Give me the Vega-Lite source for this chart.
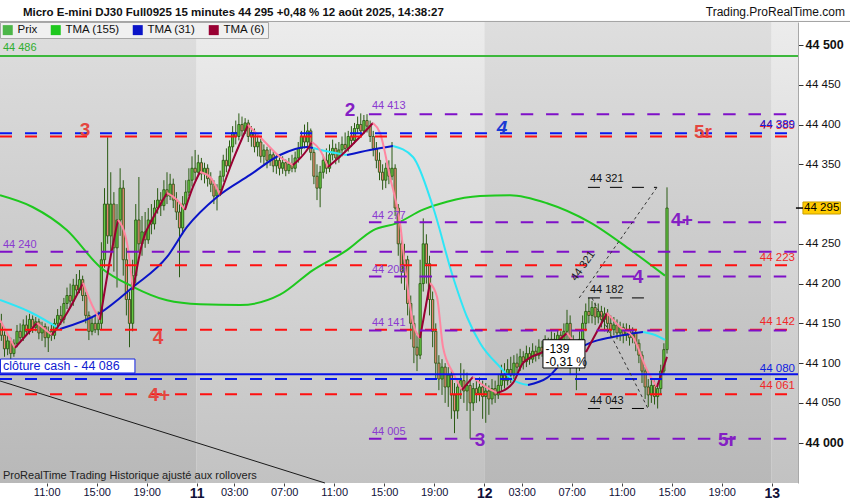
{
"$schema":"https://vega.github.io/schema/vega-lite/v6.json",
"width":798,"height":461,
"autosize":{"type":"none"},
"padding":{"left":0,"top":22,"right":52,"bottom":17},
"background":"white",
"config":{"view":{"stroke":null},"font":"Liberation Sans"},
"datasets":{
"candles":[
{"t":-15.625,"o":44150,"h":44162,"l":44128,"c":44135},
{"t":-15.375,"o":44135,"h":44140,"l":44108,"c":44118},
{"t":-15.125,"o":44118,"h":44135,"l":44110,"c":44128},
{"t":-14.875,"o":44128,"h":44132,"l":44105,"c":44112},
{"t":-14.625,"o":44112,"h":44130,"l":44108,"c":44125},
{"t":-14.375,"o":44125,"h":44148,"l":44120,"c":44140},
{"t":-14.125,"o":44140,"h":44150,"l":44126,"c":44132},
{"t":-13.875,"o":44132,"h":44155,"l":44128,"c":44148},
{"t":-13.625,"o":44148,"h":44160,"l":44135,"c":44140},
{"t":-13.375,"o":44140,"h":44162,"l":44136,"c":44155},
{"t":-13.125,"o":44155,"h":44160,"l":44138,"c":44145},
{"t":-12.875,"o":44145,"h":44158,"l":44140,"c":44152},
{"t":-12.625,"o":44152,"h":44156,"l":44130,"c":44138},
{"t":-12.375,"o":44138,"h":44152,"l":44128,"c":44146},
{"t":-12.125,"o":44146,"h":44150,"l":44120,"c":44132},
{"t":-11.875,"o":44132,"h":44146,"l":44114,"c":44140},
{"t":-11.625,"o":44140,"h":44148,"l":44128,"c":44135},
{"t":-11.375,"o":44135,"h":44156,"l":44130,"c":44150},
{"t":-11.125,"o":44150,"h":44168,"l":44145,"c":44160},
{"t":-10.875,"o":44160,"h":44172,"l":44148,"c":44155},
{"t":-10.625,"o":44155,"h":44182,"l":44150,"c":44175},
{"t":-10.375,"o":44175,"h":44195,"l":44168,"c":44185},
{"t":-10.125,"o":44185,"h":44200,"l":44170,"c":44178},
{"t":-9.875,"o":44178,"h":44206,"l":44172,"c":44198},
{"t":-9.625,"o":44198,"h":44212,"l":44185,"c":44192},
{"t":-9.375,"o":44192,"h":44217,"l":44188,"c":44205},
{"t":-9.125,"o":44205,"h":44210,"l":44178,"c":44185},
{"t":-8.875,"o":44185,"h":44190,"l":44150,"c":44160},
{"t":-8.625,"o":44160,"h":44165,"l":44129,"c":44140},
{"t":-8.375,"o":44140,"h":44158,"l":44135,"c":44150},
{"t":-8.125,"o":44150,"h":44160,"l":44138,"c":44142},
{"t":-7.875,"o":44142,"h":44165,"l":44135,"c":44150},
{"t":-7.625,"o":44150,"h":44252,"l":44142,"c":44230},
{"t":-7.375,"o":44230,"h":44320,"l":44220,"c":44300},
{"t":-7.125,"o":44300,"h":44384,"l":44250,"c":44260},
{"t":-6.875,"o":44260,"h":44340,"l":44240,"c":44300},
{"t":-6.625,"o":44300,"h":44315,"l":44215,"c":44245},
{"t":-6.375,"o":44245,"h":44300,"l":44195,"c":44280},
{"t":-6.125,"o":44280,"h":44345,"l":44260,"c":44320},
{"t":-5.875,"o":44320,"h":44330,"l":44210,"c":44230},
{"t":-5.625,"o":44230,"h":44245,"l":44160,"c":44180},
{"t":-5.375,"o":44180,"h":44190,"l":44120,"c":44150},
{"t":-5.125,"o":44150,"h":44230,"l":44140,"c":44210},
{"t":-4.875,"o":44210,"h":44300,"l":44200,"c":44280},
{"t":-4.625,"o":44280,"h":44334,"l":44240,"c":44250},
{"t":-4.375,"o":44250,"h":44285,"l":44235,"c":44265},
{"t":-4.125,"o":44265,"h":44290,"l":44245,"c":44255},
{"t":-3.875,"o":44255,"h":44295,"l":44250,"c":44280},
{"t":-3.625,"o":44280,"h":44300,"l":44262,"c":44275},
{"t":-3.375,"o":44275,"h":44305,"l":44268,"c":44295},
{"t":-3.125,"o":44295,"h":44320,"l":44288,"c":44305},
{"t":-2.875,"o":44305,"h":44315,"l":44285,"c":44298},
{"t":-2.625,"o":44298,"h":44330,"l":44292,"c":44318},
{"t":-2.375,"o":44318,"h":44340,"l":44300,"c":44310},
{"t":-2.125,"o":44310,"h":44338,"l":44305,"c":44325},
{"t":-1.875,"o":44325,"h":44332,"l":44295,"c":44305},
{"t":-1.625,"o":44305,"h":44315,"l":44280,"c":44290},
{"t":-1.375,"o":44290,"h":44300,"l":44208,"c":44270},
{"t":-1.125,"o":44270,"h":44310,"l":44262,"c":44300},
{"t":-0.875,"o":44300,"h":44330,"l":44295,"c":44315},
{"t":-0.625,"o":44315,"h":44345,"l":44310,"c":44330},
{"t":-0.375,"o":44330,"h":44360,"l":44322,"c":44345},
{"t":-0.125,"o":44345,"h":44368,"l":44330,"c":44340},
{"t":0.125,"o":44340,"h":44362,"l":44335,"c":44352},
{"t":0.375,"o":44352,"h":44358,"l":44330,"c":44338},
{"t":0.625,"o":44338,"h":44352,"l":44326,"c":44345},
{"t":0.875,"o":44345,"h":44350,"l":44322,"c":44332},
{"t":1.125,"o":44332,"h":44340,"l":44315,"c":44325},
{"t":1.375,"o":44325,"h":44330,"l":44300,"c":44310},
{"t":1.625,"o":44310,"h":44325,"l":44292,"c":44318},
{"t":1.875,"o":44318,"h":44342,"l":44310,"c":44335},
{"t":2.125,"o":44335,"h":44362,"l":44328,"c":44355},
{"t":2.375,"o":44355,"h":44370,"l":44340,"c":44348},
{"t":2.625,"o":44348,"h":44380,"l":44342,"c":44372},
{"t":2.875,"o":44372,"h":44398,"l":44365,"c":44390},
{"t":3.125,"o":44390,"h":44405,"l":44375,"c":44385},
{"t":3.375,"o":44385,"h":44414,"l":44380,"c":44400},
{"t":3.625,"o":44400,"h":44410,"l":44385,"c":44392},
{"t":3.875,"o":44392,"h":44408,"l":44388,"c":44402},
{"t":4.125,"o":44402,"h":44406,"l":44378,"c":44385},
{"t":4.375,"o":44385,"h":44398,"l":44372,"c":44390},
{"t":4.625,"o":44390,"h":44395,"l":44365,"c":44372},
{"t":4.875,"o":44372,"h":44388,"l":44360,"c":44378},
{"t":5.125,"o":44378,"h":44382,"l":44352,"c":44360},
{"t":5.375,"o":44360,"h":44375,"l":44350,"c":44368},
{"t":5.625,"o":44368,"h":44372,"l":44345,"c":44355},
{"t":5.875,"o":44355,"h":44370,"l":44348,"c":44362},
{"t":6.125,"o":44362,"h":44366,"l":44340,"c":44348},
{"t":6.375,"o":44348,"h":44362,"l":44338,"c":44355},
{"t":6.625,"o":44355,"h":44360,"l":44336,"c":44345},
{"t":6.875,"o":44345,"h":44360,"l":44338,"c":44352},
{"t":7.125,"o":44352,"h":44356,"l":44335,"c":44342},
{"t":7.375,"o":44342,"h":44358,"l":44338,"c":44350},
{"t":7.625,"o":44350,"h":44362,"l":44340,"c":44345},
{"t":7.875,"o":44345,"h":44366,"l":44340,"c":44358},
{"t":8.125,"o":44358,"h":44378,"l":44352,"c":44370},
{"t":8.375,"o":44370,"h":44392,"l":44362,"c":44385},
{"t":8.625,"o":44385,"h":44400,"l":44370,"c":44378},
{"t":8.875,"o":44378,"h":44403,"l":44372,"c":44392},
{"t":9.125,"o":44392,"h":44395,"l":44355,"c":44365},
{"t":9.375,"o":44365,"h":44370,"l":44325,"c":44335},
{"t":9.625,"o":44335,"h":44350,"l":44305,"c":44320},
{"t":9.875,"o":44320,"h":44348,"l":44296,"c":44340},
{"t":10.125,"o":44340,"h":44362,"l":44332,"c":44355},
{"t":10.375,"o":44355,"h":44370,"l":44338,"c":44345},
{"t":10.625,"o":44345,"h":44375,"l":44340,"c":44362},
{"t":10.875,"o":44362,"h":44381,"l":44355,"c":44370},
{"t":11.125,"o":44370,"h":44376,"l":44350,"c":44358},
{"t":11.375,"o":44358,"h":44378,"l":44352,"c":44368},
{"t":11.625,"o":44368,"h":44385,"l":44360,"c":44375},
{"t":11.875,"o":44375,"h":44390,"l":44365,"c":44370},
{"t":12.125,"o":44370,"h":44392,"l":44366,"c":44385},
{"t":12.375,"o":44385,"h":44398,"l":44372,"c":44380},
{"t":12.625,"o":44380,"h":44402,"l":44376,"c":44395},
{"t":12.875,"o":44395,"h":44410,"l":44388,"c":44400},
{"t":13.125,"o":44400,"h":44414,"l":44386,"c":44392},
{"t":13.375,"o":44392,"h":44412,"l":44388,"c":44405},
{"t":13.625,"o":44405,"h":44413,"l":44390,"c":44398},
{"t":13.875,"o":44398,"h":44405,"l":44378,"c":44385},
{"t":14.125,"o":44385,"h":44392,"l":44360,"c":44370},
{"t":14.375,"o":44370,"h":44378,"l":44345,"c":44355},
{"t":14.625,"o":44355,"h":44365,"l":44330,"c":44340},
{"t":14.875,"o":44340,"h":44350,"l":44318,"c":44330},
{"t":15.125,"o":44330,"h":44352,"l":44320,"c":44345},
{"t":15.375,"o":44345,"h":44355,"l":44325,"c":44335},
{"t":15.625,"o":44335,"h":44378,"l":44330,"c":44345},
{"t":15.875,"o":44345,"h":44350,"l":44285,"c":44295},
{"t":16.125,"o":44295,"h":44300,"l":44235,"c":44250},
{"t":16.375,"o":44250,"h":44262,"l":44200,"c":44215},
{"t":16.625,"o":44215,"h":44250,"l":44192,"c":44230},
{"t":16.875,"o":44230,"h":44235,"l":44160,"c":44175},
{"t":17.125,"o":44175,"h":44185,"l":44130,"c":44150},
{"t":17.375,"o":44150,"h":44160,"l":44100,"c":44120},
{"t":17.625,"o":44120,"h":44135,"l":44090,"c":44110},
{"t":17.875,"o":44110,"h":44230,"l":44105,"c":44200},
{"t":18.125,"o":44200,"h":44282,"l":44190,"c":44250},
{"t":18.375,"o":44250,"h":44262,"l":44200,"c":44225},
{"t":18.625,"o":44225,"h":44235,"l":44160,"c":44180},
{"t":18.875,"o":44180,"h":44190,"l":44120,"c":44140},
{"t":19.125,"o":44140,"h":44150,"l":44080,"c":44100},
{"t":19.375,"o":44100,"h":44110,"l":44066,"c":44080},
{"t":19.625,"o":44080,"h":44105,"l":44060,"c":44095},
{"t":19.875,"o":44095,"h":44100,"l":44050,"c":44070},
{"t":20.125,"o":44070,"h":44095,"l":44045,"c":44085},
{"t":20.375,"o":44085,"h":44090,"l":44030,"c":44060},
{"t":20.625,"o":44060,"h":44075,"l":44012,"c":44040},
{"t":20.875,"o":44040,"h":44080,"l":44030,"c":44070},
{"t":21.125,"o":44070,"h":44100,"l":44055,"c":44078},
{"t":21.375,"o":44078,"h":44092,"l":44050,"c":44065},
{"t":21.625,"o":44065,"h":44088,"l":44040,"c":44072},
{"t":21.875,"o":44072,"h":44080,"l":44005,"c":44050},
{"t":22.125,"o":44050,"h":44075,"l":44040,"c":44068},
{"t":22.375,"o":44068,"h":44080,"l":44050,"c":44062},
{"t":22.625,"o":44062,"h":44082,"l":44052,"c":44070},
{"t":22.875,"o":44070,"h":44078,"l":44030,"c":44058},
{"t":23.125,"o":44058,"h":44075,"l":44025,"c":44065},
{"t":23.375,"o":44065,"h":44072,"l":44035,"c":44055},
{"t":23.625,"o":44055,"h":44080,"l":44048,"c":44068},
{"t":23.875,"o":44068,"h":44078,"l":44050,"c":44060},
{"t":24.125,"o":44060,"h":44085,"l":44055,"c":44072},
{"t":24.375,"o":44072,"h":44098,"l":44065,"c":44085},
{"t":24.625,"o":44085,"h":44100,"l":44068,"c":44078},
{"t":24.875,"o":44078,"h":44105,"l":44072,"c":44092},
{"t":25.125,"o":44092,"h":44108,"l":44075,"c":44085},
{"t":25.375,"o":44085,"h":44110,"l":44080,"c":44100},
{"t":25.625,"o":44100,"h":44112,"l":44085,"c":44095},
{"t":25.875,"o":44095,"h":44118,"l":44090,"c":44108},
{"t":26.125,"o":44108,"h":44115,"l":44092,"c":44102},
{"t":26.375,"o":44102,"h":44122,"l":44095,"c":44112},
{"t":26.625,"o":44112,"h":44120,"l":44098,"c":44105},
{"t":26.875,"o":44105,"h":44125,"l":44100,"c":44115},
{"t":27.125,"o":44115,"h":44122,"l":44102,"c":44110},
{"t":27.375,"o":44110,"h":44130,"l":44105,"c":44120},
{"t":27.625,"o":44120,"h":44128,"l":44108,"c":44115},
{"t":27.875,"o":44115,"h":44135,"l":44110,"c":44125},
{"t":28.125,"o":44125,"h":44132,"l":44108,"c":44118},
{"t":28.375,"o":44118,"h":44140,"l":44112,"c":44130},
{"t":28.625,"o":44130,"h":44138,"l":44115,"c":44125},
{"t":28.875,"o":44125,"h":44142,"l":44118,"c":44135},
{"t":29.125,"o":44135,"h":44140,"l":44115,"c":44128},
{"t":29.375,"o":44128,"h":44150,"l":44120,"c":44140},
{"t":29.625,"o":44140,"h":44167,"l":44130,"c":44150},
{"t":29.875,"o":44150,"h":44160,"l":44085,"c":44120},
{"t":30.125,"o":44120,"h":44135,"l":44095,"c":44110},
{"t":30.375,"o":44110,"h":44125,"l":44066,"c":44100},
{"t":30.625,"o":44100,"h":44140,"l":44090,"c":44130},
{"t":30.875,"o":44130,"h":44160,"l":44120,"c":44150},
{"t":31.125,"o":44150,"h":44175,"l":44140,"c":44165},
{"t":31.375,"o":44165,"h":44182,"l":44150,"c":44160},
{"t":31.625,"o":44160,"h":44178,"l":44150,"c":44170},
{"t":31.875,"o":44170,"h":44176,"l":44148,"c":44158},
{"t":32.125,"o":44158,"h":44175,"l":44150,"c":44165},
{"t":32.375,"o":44165,"h":44172,"l":44145,"c":44155},
{"t":32.625,"o":44155,"h":44170,"l":44140,"c":44162},
{"t":32.875,"o":44162,"h":44168,"l":44138,"c":44150},
{"t":33.125,"o":44150,"h":44160,"l":44132,"c":44142},
{"t":33.375,"o":44142,"h":44158,"l":44135,"c":44148},
{"t":33.625,"o":44148,"h":44155,"l":44130,"c":44138},
{"t":33.875,"o":44138,"h":44152,"l":44128,"c":44145},
{"t":34.125,"o":44145,"h":44150,"l":44125,"c":44135},
{"t":34.375,"o":44135,"h":44150,"l":44128,"c":44142},
{"t":34.625,"o":44142,"h":44148,"l":44122,"c":44132},
{"t":34.875,"o":44132,"h":44145,"l":44125,"c":44138},
{"t":35.125,"o":44138,"h":44142,"l":44115,"c":44125},
{"t":35.375,"o":44125,"h":44130,"l":44100,"c":44110},
{"t":35.625,"o":44110,"h":44115,"l":44075,"c":44090},
{"t":35.875,"o":44090,"h":44095,"l":44055,"c":44070},
{"t":36.125,"o":44070,"h":44080,"l":44045,"c":44060},
{"t":36.375,"o":44060,"h":44082,"l":44050,"c":44072},
{"t":36.625,"o":44072,"h":44078,"l":44048,"c":44058},
{"t":36.875,"o":44058,"h":44075,"l":44043,"c":44068},
{"t":37.125,"o":44068,"h":44098,"l":44060,"c":44090},
{"t":37.375,"o":44090,"h":44125,"l":44085,"c":44117},
{"t":37.625,"o":44117,"h":44321,"l":44112,"c":44295}
],
"ma":[
{"s":"TMA (155)","g":"g","t":-15.736,"v":44311},{"s":"TMA (155)","g":"g","t":-13.096,"v":44296},{"s":"TMA (155)","g":"g","t":-10.376,"v":44267},{"s":"TMA (155)","g":"g","t":-7.736,"v":44221},{"s":"TMA (155)","g":"g","t":-5.096,"v":44196},{"s":"TMA (155)","g":"g","t":-2.376,"v":44179},{"s":"TMA (155)","g":"g","t":0.264,"v":44174},{"s":"TMA (155)","g":"g","t":3.464,"v":44173},{"s":"TMA (155)","g":"g","t":6.664,"v":44186},{"s":"TMA (155)","g":"g","t":9.304,"v":44217},{"s":"TMA (155)","g":"g","t":12.024,"v":44242},{"s":"TMA (155)","g":"g","t":14.104,"v":44267},{"s":"TMA (155)","g":"g","t":16.024,"v":44276},{"s":"TMA (155)","g":"g","t":18.104,"v":44293},{"s":"TMA (155)","g":"g","t":20.024,"v":44303},{"s":"TMA (155)","g":"g","t":22.664,"v":44310},{"s":"TMA (155)","g":"g","t":25.064,"v":44311},{"s":"TMA (155)","g":"g","t":28.024,"v":44301},{"s":"TMA (155)","g":"g","t":31.464,"v":44277},{"s":"TMA (155)","g":"g","t":34.904,"v":44240},{"s":"TMA (155)","g":"g","t":37.464,"v":44210},
{"s":"c31","g":"b1","t":-15.736,"v":44179.4},{"s":"c31","g":"b1","t":-13.336,"v":44164.3},{"s":"c31","g":"b1","t":-10.936,"v":44142.9},
{"s":"TMA (31)","g":"b2","t":-10.936,"v":44142.9},{"s":"TMA (31)","g":"b2","t":-7.736,"v":44163.1},{"s":"TMA (31)","g":"b2","t":-5.096,"v":44195.7},{"s":"TMA (31)","g":"b2","t":-2.376,"v":44233.5},{"s":"TMA (31)","g":"b2","t":-0.776,"v":44271.2},{"s":"TMA (31)","g":"b2","t":1.624,"v":44308.9},{"s":"TMA (31)","g":"b2","t":4.264,"v":44336.6},{"s":"TMA (31)","g":"b2","t":6.664,"v":44361.7},{"s":"TMA (31)","g":"b2","t":8.824,"v":44371.8},{"s":"TMA (31)","g":"b2","t":9.304,"v":44370.5},
{"s":"c31","g":"b3","t":9.304,"v":44370.5},{"s":"c31","g":"b3","t":10.664,"v":44365.5},{"s":"c31","g":"b3","t":12.024,"v":44361.7},
{"s":"TMA (31)","g":"b4","t":12.024,"v":44361.7},{"s":"TMA (31)","g":"b4","t":13.864,"v":44368.0},{"s":"TMA (31)","g":"b4","t":15.704,"v":44373.0},
{"s":"c31","g":"b5","t":15.704,"v":44373.0},{"s":"c31","g":"b5","t":17.304,"v":44359.2},{"s":"c31","g":"b5","t":18.904,"v":44296.3},{"s":"c31","g":"b5","t":20.504,"v":44208.3},{"s":"c31","g":"b5","t":21.624,"v":44158.0},{"s":"c31","g":"b5","t":22.664,"v":44125.4},{"s":"c31","g":"b5","t":24.264,"v":44095.2},{"s":"c31","g":"b5","t":25.304,"v":44078.8},{"s":"c31","g":"b5","t":26.504,"v":44072.6},
{"s":"TMA (31)","g":"b6","t":26.504,"v":44072.6},{"s":"TMA (31)","g":"b6","t":28.024,"v":44081.4},{"s":"TMA (31)","g":"b6","t":29.624,"v":44107.7},{"s":"TMA (31)","g":"b6","t":31.464,"v":44125.4},{"s":"TMA (31)","g":"b6","t":33.304,"v":44132.9},{"s":"TMA (31)","g":"b6","t":35.704,"v":44139.2},
{"s":"c31","g":"b7","t":35.704,"v":44139.2},{"s":"c31","g":"b7","t":36.664,"v":44135.4},{"s":"c31","g":"b7","t":37.464,"v":44129.1},
{"s":"p6","g":"p1","t":-15.736,"v":44154.3},{"s":"p6","g":"p1","t":-14.536,"v":44119.1},
{"s":"TMA (6)","g":"r1","t":-14.536,"v":44119.1},{"s":"TMA (6)","g":"r1","t":-12.776,"v":44150.5},
{"s":"p6","g":"p2","t":-12.776,"v":44150.5},{"s":"p6","g":"p2","t":-11.576,"v":44135.4},
{"s":"TMA (6)","g":"r2","t":-11.576,"v":44135.4},{"s":"TMA (6)","g":"r2","t":-10.376,"v":44163.1},{"s":"TMA (6)","g":"r2","t":-9.096,"v":44200.8},
{"s":"p6","g":"p3","t":-9.096,"v":44200.8},{"s":"p6","g":"p3","t":-8.376,"v":44173.1},{"s":"p6","g":"p3","t":-7.736,"v":44154.3},
{"s":"TMA (6)","g":"r3","t":-7.736,"v":44154.3},{"s":"TMA (6)","g":"r3","t":-6.936,"v":44229.7},{"s":"TMA (6)","g":"r3","t":-6.296,"v":44280.0},
{"s":"p6","g":"p4","t":-6.296,"v":44280.0},{"s":"p6","g":"p4","t":-5.576,"v":44251.1},{"s":"p6","g":"p4","t":-5.096,"v":44192.0},
{"s":"TMA (6)","g":"r4","t":-5.096,"v":44192.0},{"s":"TMA (6)","g":"r4","t":-4.296,"v":44254.9},{"s":"TMA (6)","g":"r4","t":-3.496,"v":44282.5},{"s":"TMA (6)","g":"r4","t":-2.376,"v":44314.0},
{"s":"p6","g":"p5","t":-2.376,"v":44314.0},{"s":"p6","g":"p5","t":-1.576,"v":44305.1},{"s":"p6","g":"p5","t":-0.936,"v":44292.6},
{"s":"TMA (6)","g":"r5","t":-0.936,"v":44292.6},{"s":"TMA (6)","g":"r5","t":-0.296,"v":44321.5},{"s":"TMA (6)","g":"r5","t":0.264,"v":44340.3},
{"s":"p6","g":"p6","t":0.264,"v":44340.3},{"s":"p6","g":"p6","t":1.064,"v":44334.1},{"s":"p6","g":"p6","t":1.864,"v":44311.4},
{"s":"TMA (6)","g":"r6","t":1.864,"v":44311.4},{"s":"TMA (6)","g":"r6","t":2.904,"v":44355.4},{"s":"TMA (6)","g":"r6","t":4.104,"v":44399.4},
{"s":"p6","g":"p7","t":4.104,"v":44399.4},{"s":"p6","g":"p7","t":5.304,"v":44380.6},{"s":"p6","g":"p7","t":6.664,"v":44359.2},{"s":"p6","g":"p7","t":7.704,"v":44349.1},
{"s":"TMA (6)","g":"r7","t":7.704,"v":44349.1},{"s":"TMA (6)","g":"r7","t":8.824,"v":44368.0},{"s":"TMA (6)","g":"r7","t":9.224,"v":44378.0},
{"s":"p6","g":"p8","t":9.224,"v":44378.0},{"s":"p6","g":"p8","t":9.864,"v":44368.0},{"s":"p6","g":"p8","t":10.504,"v":44346.6},
{"s":"TMA (6)","g":"r8","t":10.504,"v":44346.6},{"s":"TMA (6)","g":"r8","t":12.024,"v":44368.0},{"s":"TMA (6)","g":"r8","t":14.104,"v":44401.9},
{"s":"p6","g":"p9","t":14.104,"v":44401.9},{"s":"p6","g":"p9","t":14.664,"v":44389.4},{"s":"p6","g":"p9","t":15.464,"v":44334.1},{"s":"p6","g":"p9","t":16.264,"v":44276.2},{"s":"p6","g":"p9","t":16.824,"v":44200.8},{"s":"p6","g":"p9","t":17.304,"v":44150.5},{"s":"p6","g":"p9","t":17.864,"v":44131.6},
{"s":"TMA (6)","g":"r9","t":17.864,"v":44131.6},{"s":"TMA (6)","g":"r9","t":18.664,"v":44200.8},
{"s":"p6","g":"p10","t":18.664,"v":44200.8},{"s":"p6","g":"p10","t":19.224,"v":44183.2},{"s":"p6","g":"p10","t":19.704,"v":44120.3},{"s":"p6","g":"p10","t":20.504,"v":44087.6},{"s":"p6","g":"p10","t":21.224,"v":44066.3},
{"s":"TMA (6)","g":"r10","t":21.224,"v":44066.3},{"s":"TMA (6)","g":"r10","t":22.104,"v":44082.6},
{"s":"p6","g":"p11","t":22.104,"v":44082.6},{"s":"p6","g":"p11","t":22.664,"v":44075.1},{"s":"p6","g":"p11","t":24.024,"v":44062.5},
{"s":"TMA (6)","g":"r11","t":24.024,"v":44062.5},{"s":"TMA (6)","g":"r11","t":25.304,"v":44075.1},{"s":"TMA (6)","g":"r11","t":26.104,"v":44100.2},{"s":"TMA (6)","g":"r11","t":28.024,"v":44116.6},{"s":"TMA (6)","g":"r11","t":29.624,"v":44137.9},
{"s":"p6","g":"p12","t":29.624,"v":44137.9},{"s":"p6","g":"p12","t":30.424,"v":44122.8},{"s":"p6","g":"p12","t":31.144,"v":44114.0},
{"s":"TMA (6)","g":"r12","t":31.144,"v":44114.0},{"s":"TMA (6)","g":"r12","t":32.824,"v":44163.1},
{"s":"p6","g":"p13","t":32.824,"v":44163.1},{"s":"p6","g":"p13","t":33.864,"v":44145.5},{"s":"p6","g":"p13","t":34.904,"v":44132.9},{"s":"p6","g":"p13","t":36.024,"v":44091.4},{"s":"p6","g":"p13","t":36.824,"v":44070.0},
{"s":"TMA (6)","g":"r13","t":36.824,"v":44070.0},{"s":"TMA (6)","g":"r13","t":37.624,"v":44107.8}
]
},
"layer":[
{"data":{"values":[{"a":-15.736,"b":0},{"a":23,"b":46}]},
 "mark":{"type":"rect","fill":{"gradient":"linear","x1":0,"y1":0,"x2":0,"y2":1,"stops":[{"offset":0,"color":"#dedede"},{"offset":1,"color":"#b8b8b8"}]}},
 "encoding":{"x":{"field":"a","type":"quantitative","scale":{"domain":[-15.736,48.104],"nice":false,"zero":false,"padding":0},
   "axis":{"orient":"bottom","title":null,"values":[-12,-8,-4,0,3,7,11,15,19,23,26,30,34,38,42,46],
   "labelExpr":"datum.value < 0 ? (23 + datum.value) + ':00' : (datum.value % 23 == 0 ? '' + (11 + datum.value / 23) : ((datum.value % 23) < 10 ? '0' : '') + (datum.value % 23) + ':00')",
   "domain":false,"grid":false,"ticks":true,"tickSize":3,"tickColor":"#444444","labelPadding":0,"labelFont":"Liberation Sans","labelColor":"#101038","labelFlush":false,"labelOverlap":false,
   "labelFontSize":{"condition":{"test":"datum.value == 0 || datum.value == 23 || datum.value == 46","value":14},"value":11},
   "labelFontWeight":{"condition":{"test":"datum.value == 0 || datum.value == 23 || datum.value == 46","value":"bold"},"value":"normal"}}},
  "x2":{"field":"b"}}},
{"data":{"values":[{"a":0,"b":23},{"a":46,"b":48.104}]},
 "mark":{"type":"rect","fill":{"gradient":"linear","x1":0,"y1":0,"x2":0,"y2":1,"stops":[{"offset":0,"color":"#ececec"},{"offset":1,"color":"#c2c2c2"}]}},
 "encoding":{"x":{"field":"a","type":"quantitative","scale":{"domain":[-15.736,48.104],"nice":false,"zero":false,"padding":0}},"x2":{"field":"b"}}},
{"data":{"values":[{"t":-15.736,"v":44077.6},{"t":10.26,"v":43949.3}]},
 "mark":{"type":"line","color":"#1a1a1a","strokeWidth":1},
 "encoding":{"x":{"field":"t","type":"quantitative","scale":{"domain":[-15.736,48.104],"nice":false,"zero":false,"padding":0}},
  "y":{"field":"v","type":"quantitative","scale":{"domain":[43949.3,44528.9],"nice":false,"zero":false,"padding":0},
   "axis":{"orient":"right","title":null,"values":[44000,44050,44100,44150,44200,44250,44350,44400,44450,44500],
   "labelExpr":"replace(format(datum.value, ','), ',', ' ')","grid":false,"domain":true,"domainColor":"#a8a8a8","domainWidth":1,"labelFlush":false,"labelOverlap":false,
   "ticks":true,"tickSize":5,"tickColor":"#333333","labelPadding":2,"labelFont":"Liberation Sans","labelColor":"#111111",
   "labelFontSize":{"condition":{"test":"datum.value % 500 == 0","value":12.5},"value":11.5},
   "labelFontWeight":{"condition":{"test":"datum.value % 500 == 0","value":"bold"},"value":"normal"}}}}},
{"data":{"name":"candles"},
 "mark":{"type":"rule","color":"#2b5b14","strokeWidth":1},
 "encoding":{"x":{"field":"t","type":"quantitative","scale":{"domain":[-15.736,48.104],"nice":false,"zero":false,"padding":0}},
  "y":{"field":"l","type":"quantitative","scale":{"domain":[43949.3,44528.9],"nice":false,"zero":false,"padding":0}},
  "y2":{"field":"h"}}},
{"data":{"name":"candles"},
 "mark":{"type":"bar","width":2.2,"stroke":"#2b5b14","strokeWidth":0.9},
 "encoding":{"x":{"field":"t","type":"quantitative","scale":{"domain":[-15.736,48.104],"nice":false,"zero":false,"padding":0}},
  "y":{"field":"o","type":"quantitative","scale":{"domain":[43949.3,44528.9],"nice":false,"zero":false,"padding":0}},
  "y2":{"field":"c"},
  "color":{"condition":{"test":"datum.c >= datum.o","value":"#66cc44"},"value":"#ee8877"}}},
{"data":{"name":"ma"},
 "mark":{"type":"line","strokeWidth":2,"interpolate":"monotone"},
 "encoding":{"x":{"field":"t","type":"quantitative","scale":{"domain":[-15.736,48.104],"nice":false,"zero":false,"padding":0}},
  "y":{"field":"v","type":"quantitative","scale":{"domain":[43949.3,44528.9],"nice":false,"zero":false,"padding":0}},
  "detail":{"field":"g"},
  "color":{"field":"s","type":"nominal",
   "scale":{"domain":["Prix","TMA (155)","TMA (31)","TMA (6)","c31","p6"],"range":["#4cb648","#1ec81e","#0a14c8","#990033","#2ee6f6","#ff86a0"]},
   "legend":{"values":["Prix","TMA (155)","TMA (31)","TMA (6)"],"orient":"top-left","offset":0,"direction":"horizontal","title":null,
    "symbolType":"square","symbolSize":100,"symbolStrokeWidth":0,"labelFontSize":11.5,"labelFont":"Liberation Sans","labelColor":"#111111",
    "fillColor":"#f0f0f0","strokeColor":"#a8a8a8","padding":2,"columnPadding":12,"labelOffset":4,"zindex":1,
    "encode":{"symbols":{"update":{"fill":{"scale":"color","field":"value"},"opacity":{"value":1}}}}}}}},
{"data":{"values":[{"v":44385,"a":-15.736,"b":48.104},{"v":44223,"a":-15.736,"b":48.104},{"v":44142,"a":-15.736,"b":48.104},{"v":44061,"a":-15.736,"b":48.104}]},
 "mark":{"type":"rule","color":"#ff1010","strokeWidth":2,"strokeDash":[12,13]},
 "encoding":{"x":{"field":"a","type":"quantitative","scale":{"domain":[-15.736,48.104],"nice":false,"zero":false,"padding":0}},"x2":{"field":"b"},
  "y":{"field":"v","type":"quantitative","scale":{"domain":[43949.3,44528.9],"nice":false,"zero":false,"padding":0}}}},
{"data":{"values":[{"v":44389,"a":-15.736,"b":48.104},{"v":44080,"a":-15.736,"b":48.104}]},
 "mark":{"type":"rule","color":"#0818f0","strokeWidth":2,"strokeDash":[12,13]},
 "encoding":{"x":{"field":"a","type":"quantitative","scale":{"domain":[-15.736,48.104],"nice":false,"zero":false,"padding":0}},"x2":{"field":"b"},
  "y":{"field":"v","type":"quantitative","scale":{"domain":[43949.3,44528.9],"nice":false,"zero":false,"padding":0}}}},
{"data":{"values":[{"v":44240,"a":-15.736,"b":48.104},{"v":44413,"a":13.78,"b":48.104},{"v":44277,"a":13.78,"b":48.104},{"v":44209,"a":13.78,"b":48.104},{"v":44141,"a":13.78,"b":48.104},{"v":44005,"a":13.78,"b":48.104}]},
 "mark":{"type":"rule","color":"#7f10c8","strokeWidth":2,"strokeDash":[12.5,12.8]},
 "encoding":{"x":{"field":"a","type":"quantitative","scale":{"domain":[-15.736,48.104],"nice":false,"zero":false,"padding":0}},"x2":{"field":"b"},
  "y":{"field":"v","type":"quantitative","scale":{"domain":[43949.3,44528.9],"nice":false,"zero":false,"padding":0}}}},
{"data":{"values":[{"v":44486,"a":-15.736,"b":48.104}]},
 "mark":{"type":"rule","color":"#3cb83c","strokeWidth":2},
 "encoding":{"x":{"field":"a","type":"quantitative","scale":{"domain":[-15.736,48.104],"nice":false,"zero":false,"padding":0}},"x2":{"field":"b"},
  "y":{"field":"v","type":"quantitative","scale":{"domain":[43949.3,44528.9],"nice":false,"zero":false,"padding":0}}}},
{"data":{"values":[{"v":44086,"a":-15.736,"b":48.104}]},
 "mark":{"type":"rule","color":"#0a10e8","strokeWidth":2},
 "encoding":{"x":{"field":"a","type":"quantitative","scale":{"domain":[-15.736,48.104],"nice":false,"zero":false,"padding":0}},"x2":{"field":"b"},
  "y":{"field":"v","type":"quantitative","scale":{"domain":[43949.3,44528.9],"nice":false,"zero":false,"padding":0}}}},
{"data":{"values":[{"v":44321,"a":31.3,"b":36.82},{"v":44182,"a":31.3,"b":36.1},{"v":44043,"a":31.3,"b":36.1}]},
 "mark":{"type":"rule","color":"#000000","strokeWidth":1,"strokeDash":[12,10]},
 "encoding":{"x":{"field":"a","type":"quantitative","scale":{"domain":[-15.736,48.104],"nice":false,"zero":false,"padding":0}},"x2":{"field":"b"},
  "y":{"field":"v","type":"quantitative","scale":{"domain":[43949.3,44528.9],"nice":false,"zero":false,"padding":0}}}},
{"data":{"values":[{"g":"d1","t":30.6,"v":44182},{"g":"d1","t":36.82,"v":44321},{"g":"d2","t":31.62,"v":44182},{"g":"d2","t":36.1,"v":44043}]},
 "mark":{"type":"line","color":"#333333","strokeWidth":1,"strokeDash":[3,3]},
 "encoding":{"x":{"field":"t","type":"quantitative","scale":{"domain":[-15.736,48.104],"nice":false,"zero":false,"padding":0}},
  "y":{"field":"v","type":"quantitative","scale":{"domain":[43949.3,44528.9],"nice":false,"zero":false,"padding":0}},"detail":{"field":"g"}}},
{"data":{"values":[{"t":-15.5,"v":44242,"txt":"44 240"},{"t":14.02,"v":44417,"txt":"44 413"},{"t":14.02,"v":44279,"txt":"44 277"},{"t":14.02,"v":44211,"txt":"44 209"},{"t":14.02,"v":44144,"txt":"44 141"},{"t":14.02,"v":44007,"txt":"44 005"}]},
 "mark":{"type":"text","align":"left","baseline":"bottom","fontSize":11,"font":"Liberation Sans","color":"#8a3ad0"},
 "encoding":{"x":{"field":"t","type":"quantitative","scale":{"domain":[-15.736,48.104],"nice":false,"zero":false,"padding":0}},
  "y":{"field":"v","type":"quantitative","scale":{"domain":[43949.3,44528.9],"nice":false,"zero":false,"padding":0}},"text":{"field":"txt"}}},
{"data":{"values":[{"t":-15.5,"v":44489.3,"txt":"44 486"}]},
 "mark":{"type":"text","align":"left","baseline":"bottom","fontSize":11,"font":"Liberation Sans","color":"#2fae2f"},
 "encoding":{"x":{"field":"t","type":"quantitative","scale":{"domain":[-15.736,48.104],"nice":false,"zero":false,"padding":0}},
  "y":{"field":"v","type":"quantitative","scale":{"domain":[43949.3,44528.9],"nice":false,"zero":false,"padding":0}},"text":{"field":"txt"}}},
{"data":{"values":[{"t":47.86,"v":44391.9,"txt":"44 385"},{"t":47.86,"v":44225.9,"txt":"44 223"},{"t":47.86,"v":44145.5,"txt":"44 142"},{"t":47.86,"v":44065,"txt":"44 061"}]},
 "mark":{"type":"text","align":"right","baseline":"bottom","fontSize":11.5,"font":"Liberation Sans","color":"#f02828"},
 "encoding":{"x":{"field":"t","type":"quantitative","scale":{"domain":[-15.736,48.104],"nice":false,"zero":false,"padding":0}},
  "y":{"field":"v","type":"quantitative","scale":{"domain":[43949.3,44528.9],"nice":false,"zero":false,"padding":0}},"text":{"field":"txt"}}},
{"data":{"values":[{"t":47.86,"v":44393.1,"txt":"44 389"},{"t":47.86,"v":44086.4,"txt":"44 080"}]},
 "mark":{"type":"text","align":"right","baseline":"bottom","fontSize":11.5,"font":"Liberation Sans","color":"#1020e0"},
 "encoding":{"x":{"field":"t","type":"quantitative","scale":{"domain":[-15.736,48.104],"nice":false,"zero":false,"padding":0}},
  "y":{"field":"v","type":"quantitative","scale":{"domain":[43949.3,44528.9],"nice":false,"zero":false,"padding":0}},"text":{"field":"txt"}}},
{"data":{"values":[{"t":31.46,"v":44325.2,"txt":"44 321"},{"t":31.46,"v":44185.7,"txt":"44 182"},{"t":31.46,"v":44046.2,"txt":"44 043"}]},
 "mark":{"type":"text","align":"left","baseline":"bottom","fontSize":11,"font":"Liberation Sans","color":"#111111"},
 "encoding":{"x":{"field":"t","type":"quantitative","scale":{"domain":[-15.736,48.104],"nice":false,"zero":false,"padding":0}},
  "y":{"field":"v","type":"quantitative","scale":{"domain":[43949.3,44528.9],"nice":false,"zero":false,"padding":0}},"text":{"field":"txt"}}},
{"data":{"values":[{"t":30.92,"v":44222,"txt":"44 321"}]},
 "mark":{"type":"text","align":"center","baseline":"middle","fontSize":11,"font":"Liberation Sans","color":"#222222","angle":305},
 "encoding":{"x":{"field":"t","type":"quantitative","scale":{"domain":[-15.736,48.104],"nice":false,"zero":false,"padding":0}},
  "y":{"field":"v","type":"quantitative","scale":{"domain":[43949.3,44528.9],"nice":false,"zero":false,"padding":0}},"text":{"field":"txt"}}},
{"data":{"values":[{"t":-8.94,"v":44393,"txt":"3"},{"t":-3.1,"v":44131.6,"txt":"4"},{"t":-3.0,"v":44060,"txt":"4+"},{"t":40.5,"v":44390.6,"txt":"5r"}]},
 "mark":{"type":"text","align":"center","baseline":"middle","fontSize":19,"fontWeight":"bold","font":"Liberation Sans","color":"#e4463f"},
 "encoding":{"x":{"field":"t","type":"quantitative","scale":{"domain":[-15.736,48.104],"nice":false,"zero":false,"padding":0}},
  "y":{"field":"v","type":"quantitative","scale":{"domain":[43949.3,44528.9],"nice":false,"zero":false,"padding":0}},"text":{"field":"txt"}}},
{"data":{"values":[{"t":12.26,"v":44418.3,"txt":"2"},{"t":38.82,"v":44280,"txt":"4+"},{"t":35.3,"v":44208.3,"txt":"4"},{"t":22.66,"v":44003.4,"txt":"3"},{"t":42.42,"v":44003.4,"txt":"5r"}]},
 "mark":{"type":"text","align":"center","baseline":"middle","fontSize":19,"fontWeight":"bold","font":"Liberation Sans","color":"#8420c4"},
 "encoding":{"x":{"field":"t","type":"quantitative","scale":{"domain":[-15.736,48.104],"nice":false,"zero":false,"padding":0}},
  "y":{"field":"v","type":"quantitative","scale":{"domain":[43949.3,44528.9],"nice":false,"zero":false,"padding":0}},"text":{"field":"txt"}}},
{"data":{"values":[{"t":24.42,"v":44395.6,"txt":"4"}]},
 "mark":{"type":"text","align":"center","baseline":"middle","fontSize":19,"fontWeight":"bold","fontStyle":"italic","font":"Liberation Sans","color":"#1a3ad4"},
 "encoding":{"x":{"field":"t","type":"quantitative","scale":{"domain":[-15.736,48.104],"nice":false,"zero":false,"padding":0}},
  "y":{"field":"v","type":"quantitative","scale":{"domain":[43949.3,44528.9],"nice":false,"zero":false,"padding":0}},"text":{"field":"txt"}}},
{"data":{"values":[{"a":-15.7,"b":-4.94,"v1":44105.2,"v2":44087.6}]},
 "mark":{"type":"rect","fill":"#ffffff","stroke":"#1020e0","strokeWidth":1},
 "encoding":{"x":{"field":"a","type":"quantitative","scale":{"domain":[-15.736,48.104],"nice":false,"zero":false,"padding":0}},"x2":{"field":"b"},
  "y":{"field":"v1","type":"quantitative","scale":{"domain":[43949.3,44528.9],"nice":false,"zero":false,"padding":0}},"y2":{"field":"v2"}}},
{"data":{"values":[{"t":-15.5,"v":44096.4,"txt":"clôture cash -  44 086"}]},
 "mark":{"type":"text","align":"left","baseline":"middle","fontSize":12.5,"font":"Liberation Sans","color":"#1020d0"},
 "encoding":{"x":{"field":"t","type":"quantitative","scale":{"domain":[-15.736,48.104],"nice":false,"zero":false,"padding":0}},
  "y":{"field":"v","type":"quantitative","scale":{"domain":[43949.3,44528.9],"nice":false,"zero":false,"padding":0}},"text":{"field":"txt"}}},
{"data":{"values":[{"a":27.7,"b":31.06,"v1":44129.4,"v2":44093.9}]},
 "mark":{"type":"rect","fill":"#ffffff","stroke":"#000000","strokeWidth":1},
 "encoding":{"x":{"field":"a","type":"quantitative","scale":{"domain":[-15.736,48.104],"nice":false,"zero":false,"padding":0}},"x2":{"field":"b"},
  "y":{"field":"v1","type":"quantitative","scale":{"domain":[43949.3,44528.9],"nice":false,"zero":false,"padding":0}},"y2":{"field":"v2"}}},
{"data":{"values":[{"t":27.9,"v":44118,"txt":"-139"},{"t":27.9,"v":44101.5,"txt":"-0,31 %"}]},
 "mark":{"type":"text","align":"left","baseline":"middle","fontSize":12,"font":"Liberation Sans","color":"#000000"},
 "encoding":{"x":{"field":"t","type":"quantitative","scale":{"domain":[-15.736,48.104],"nice":false,"zero":false,"padding":0}},
  "y":{"field":"v","type":"quantitative","scale":{"domain":[43949.3,44528.9],"nice":false,"zero":false,"padding":0}},"text":{"field":"txt"}}},
{"data":{"values":[{"t":-15.5,"v":43958.1,"txt":"ProRealTime Trading  Historique ajusté aux rollovers"}]},
 "mark":{"type":"text","align":"left","baseline":"middle","fontSize":11,"font":"Liberation Sans","color":"#222222"},
 "encoding":{"x":{"field":"t","type":"quantitative","scale":{"domain":[-15.736,48.104],"nice":false,"zero":false,"padding":0}},
  "y":{"field":"v","type":"quantitative","scale":{"domain":[43949.3,44528.9],"nice":false,"zero":false,"padding":0}},"text":{"field":"txt"}}},
{"data":{"values":[{"a":48.5,"b":51.5,"v1":44302.6,"v2":44287.5}]},
 "mark":{"type":"rect","fill":"#ffcc00","stroke":"#c8a000","strokeWidth":1},
 "encoding":{"x":{"field":"a","type":"quantitative","scale":{"domain":[-15.736,48.104],"nice":false,"zero":false,"padding":0}},"x2":{"field":"b"},
  "y":{"field":"v1","type":"quantitative","scale":{"domain":[43949.3,44528.9],"nice":false,"zero":false,"padding":0}},"y2":{"field":"v2"}}},
{"data":{"values":[{"v":44295,"a":47.94,"b":48.5}]},
 "mark":{"type":"rule","color":"#000000","strokeWidth":1.5},
 "encoding":{"x":{"field":"a","type":"quantitative","scale":{"domain":[-15.736,48.104],"nice":false,"zero":false,"padding":0}},"x2":{"field":"b"},
  "y":{"field":"v","type":"quantitative","scale":{"domain":[43949.3,44528.9],"nice":false,"zero":false,"padding":0}}}},
{"data":{"values":[{"t":50.0,"v":44295,"txt":"44 295"}]},
 "mark":{"type":"text","align":"center","baseline":"middle","fontSize":11.5,"font":"Liberation Sans","color":"#000000"},
 "encoding":{"x":{"field":"t","type":"quantitative","scale":{"domain":[-15.736,48.104],"nice":false,"zero":false,"padding":0}},
  "y":{"field":"v","type":"quantitative","scale":{"domain":[43949.3,44528.9],"nice":false,"zero":false,"padding":0}},"text":{"field":"txt"}}},
{"data":{"values":[{"v":44529.6,"a":-15.736,"b":52.3}]},
 "mark":{"type":"rule","color":"#a0a0a0","strokeWidth":1},
 "encoding":{"x":{"field":"a","type":"quantitative","scale":{"domain":[-15.736,48.104],"nice":false,"zero":false,"padding":0}},"x2":{"field":"b"},
  "y":{"field":"v","type":"quantitative","scale":{"domain":[43949.3,44528.9],"nice":false,"zero":false,"padding":0}}}},
{"data":{"values":[{"t":-13.9,"v":44536.5,"txt":"Micro E-mini DJ30 Full0925 15 minutes 44 295 +0,48 % 12 août 2025, 14:38:27"}]},
 "mark":{"type":"text","align":"left","baseline":"alphabetic","fontSize":11.5,"fontWeight":"bold","font":"Liberation Sans","color":"#111111"},
 "encoding":{"x":{"field":"t","type":"quantitative","scale":{"domain":[-15.736,48.104],"nice":false,"zero":false,"padding":0}},
  "y":{"field":"v","type":"quantitative","scale":{"domain":[43949.3,44528.9],"nice":false,"zero":false,"padding":0}},"text":{"field":"txt"}}},
{"data":{"values":[{"t":51.86,"v":44536.5,"txt":"Trading.ProRealTime.com"}]},
 "mark":{"type":"text","align":"right","baseline":"alphabetic","fontSize":12,"font":"Liberation Sans","color":"#111111"},
 "encoding":{"x":{"field":"t","type":"quantitative","scale":{"domain":[-15.736,48.104],"nice":false,"zero":false,"padding":0}},
  "y":{"field":"v","type":"quantitative","scale":{"domain":[43949.3,44528.9],"nice":false,"zero":false,"padding":0}},"text":{"field":"txt"}}}
]
}
